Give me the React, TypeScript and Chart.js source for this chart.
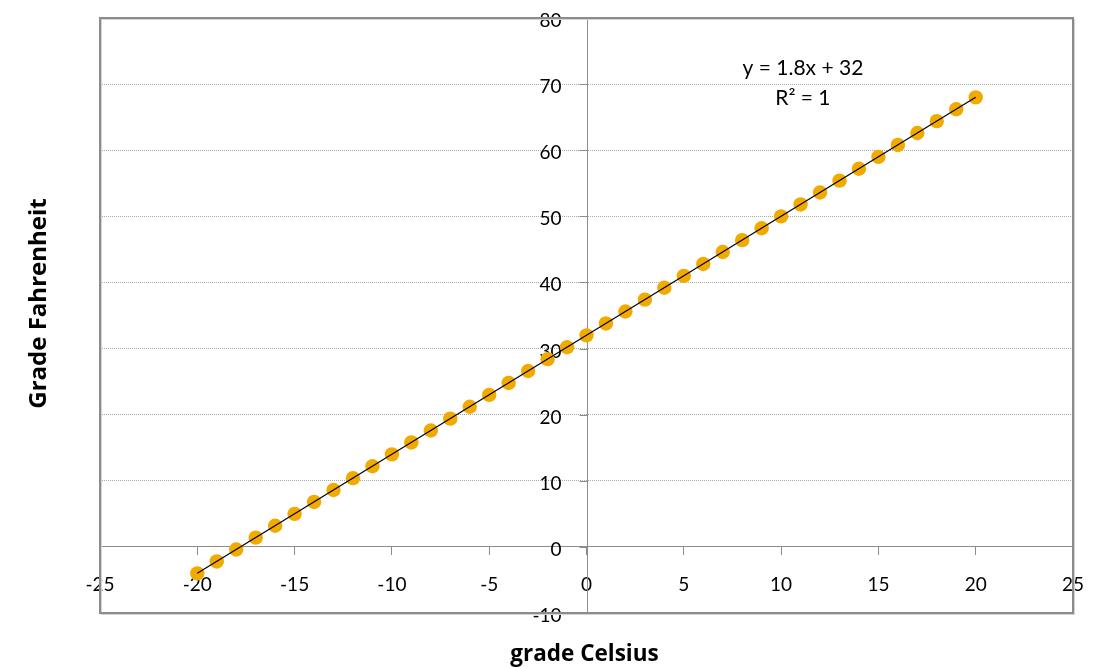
import React, { useEffect, useRef } from "react";
import { Chart, registerables } from "chart.js";

Chart.register(...registerables);

const celsius = [-20, -19, -18, -17, -16, -15, -14, -13, -12, -11, -10, -9, -8, -7, -6, -5, -4, -3, -2, -1, 0, 1, 2, 3, 4, 5, 6, 7, 8, 9, 10, 11, 12, 13, 14, 15, 16, 17, 18, 19, 20];
const fahrenheit = [-4, -2.2, -0.4, 1.4, 3.2, 5, 6.8, 8.6, 10.4, 12.2, 14, 15.8, 17.6, 19.4, 21.2, 23, 24.8, 26.6, 28.4, 30.2, 32, 33.8, 35.6, 37.4, 39.2, 41, 42.8, 44.6, 46.4, 48.2, 50, 51.8, 53.6, 55.4, 57.2, 59, 60.8, 62.6, 64.4, 66.2, 68];
const equationLines = ["y = 1.8x + 32", "R² = 1"];
const xTitle = "grade Celsius";
const yTitle = "Grade Fahrenheit";
const xRange = [-25, 25];
const yRange = [-10, 80];

const FONT = "Lato, 'Open Sans', sans-serif";
const TITLE_FONT = "'Open Sans', Lato, sans-serif";
const AXIS = "#8c8c8c";

function fit(xs: number[], ys: number[]) {
  const n = xs.length;
  const mx = xs.reduce((a, b) => a + b, 0) / n;
  const my = ys.reduce((a, b) => a + b, 0) / n;
  let sxy = 0, sxx = 0;
  for (let i = 0; i < n; i++) {
    sxy += (xs[i] - mx) * (ys[i] - my);
    sxx += (xs[i] - mx) * (xs[i] - mx);
  }
  const m = sxy / sxx;
  return { m, b: my - m * mx };
}

const noPad = (s: any) => {
  s.paddingTop = 0;
  s.paddingBottom = 0;
  s.paddingLeft = 0;
  s.paddingRight = 0;
};

export default function App() {
  const ref = useRef<HTMLCanvasElement | null>(null);
  useEffect(() => {
    if (!ref.current) return;
    const { m, b } = fit(celsius, fahrenheit);
    const xMin = Math.min(...celsius);
    const xMax = Math.max(...celsius);
    const trend = [
      { x: xMin, y: m * xMin + b },
      { x: xMax, y: m * xMax + b },
    ];
    const points = celsius.map((c, i) => ({ x: c, y: fahrenheit[i] }));

    const decor = {
      id: "decor",
      beforeDraw(chart: any) {
        const { ctx } = chart;
        ctx.save();
        ctx.fillStyle = "#fff";
        ctx.fillRect(0, 0, chart.width, chart.height);
        ctx.restore();
      },
      beforeDatasetsDraw(chart: any) {
        const { ctx, chartArea: a } = chart;
        const xs = chart.scales.x;
        const ys = chart.scales.y;
        ctx.save();
        ctx.strokeStyle = AXIS;
        ctx.lineWidth = 1;
        const px = Math.round(xs.getPixelForValue(0)) + 0.5;
        ctx.beginPath();
        ctx.moveTo(px, a.top);
        ctx.lineTo(px, a.bottom);
        ctx.stroke();
        // y tick marks and labels
        ctx.fillStyle = "#000";
        ctx.font = `19px ${FONT}`;
        ctx.textAlign = "right";
        ctx.textBaseline = "middle";
        for (const t of ys.ticks) {
          const py = Math.round(ys.getPixelForValue(t.value)) + 0.5;
          ctx.beginPath();
          ctx.moveTo(px - 8, py);
          ctx.lineTo(px, py);
          ctx.stroke();
          ctx.fillText(String(t.value), px - 26, py + 2);
        }
        ctx.restore();
      },
      afterDraw(chart: any) {
        const { ctx, chartArea: a } = chart;
        ctx.save();
        // frame
        ctx.strokeStyle = "#d4d4d4";
        ctx.lineWidth = 1;
        ctx.strokeRect(a.left + 1.5, a.top + 1.5, a.right - a.left, a.bottom - a.top);
        ctx.strokeStyle = AXIS;
        ctx.lineWidth = 2;
        ctx.strokeRect(a.left, a.top, a.right - a.left, a.bottom - a.top);
        // equation
        ctx.fillStyle = "#000";
        ctx.font = `21px ${FONT}`;
        ctx.textAlign = "center";
        ctx.textBaseline = "middle";
        const xs = chart.scales.x;
        const ys = chart.scales.y;
        const cx = xs.getPixelForValue(11.12);
        ctx.fillText(equationLines[0], cx, ys.getPixelForValue(72.4));
        ctx.fillText(equationLines[1], cx, ys.getPixelForValue(67.8));
        // titles
        ctx.font = `bold 22.5px ${TITLE_FONT}`;
        ctx.fillText(xTitle, (a.left + a.right) / 2 - 2, a.bottom + 42);
        ctx.font = `bold 24px ${TITLE_FONT}`;
        ctx.translate(31, (a.top + a.bottom) / 2 - 12);
        ctx.rotate(-Math.PI / 2);
        ctx.fillText(yTitle, 0, 0);
        ctx.restore();
      },
    };

    const chart = new Chart(ref.current, {
      type: "scatter",
      data: {
        datasets: [
          {
            type: "line",
            data: trend,
            borderColor: "#000",
            borderWidth: 1.2,
            pointRadius: 0,
            fill: false,
          } as any,
          {
            data: points,
            backgroundColor: "#F0AA00",
            borderColor: "#F0AA00",
            pointRadius: 7.2,
            pointHoverRadius: 7.2,
            borderWidth: 0,
          },
        ],
      },
      options: {
        animation: false,
        responsive: true,
        maintainAspectRatio: false,
        layout: { padding: { left: 92, top: 10, right: 14, bottom: 55 } },
        plugins: { legend: { display: false }, tooltip: { enabled: false } },
        scales: {
          x: {
            type: "linear",
            position: { y: 0 } as any,
            min: xRange[0],
            max: xRange[1],
            afterFit: noPad,
            ticks: {
              stepSize: 5,
              color: "#000",
              font: { family: FONT, size: 19 },
              padding: 19,
            },
            grid: {
              drawOnChartArea: false,
              drawTicks: true,
              tickLength: 8,
              color: AXIS,
              tickColor: AXIS,
            },
            border: { color: AXIS, width: 1 },
          },
          y: {
            type: "linear",
            position: { x: 0 } as any,
            min: yRange[0],
            max: yRange[1],
            afterFit: noPad,
            ticks: {
              stepSize: 10,
              display: false,
            },
            grid: {
              drawOnChartArea: true,
              drawTicks: false,
              color: (c: any) =>
                c.tick && (c.tick.value === 0 || c.tick.value === yRange[1] || c.tick.value === yRange[0])
                  ? "rgba(0,0,0,0)"
                  : "#a8a8a8",
            } as any,
            border: { display: false, color: AXIS, width: 1, dash: [1, 1] } as any,
          },
        },
      },
      plugins: [decor],
    });

    return () => chart.destroy();
  }, []);

  return (
    <div style={{ width: 1079, height: 660, position: "relative" }}>
      <canvas ref={ref} />
    </div>
  );
}
